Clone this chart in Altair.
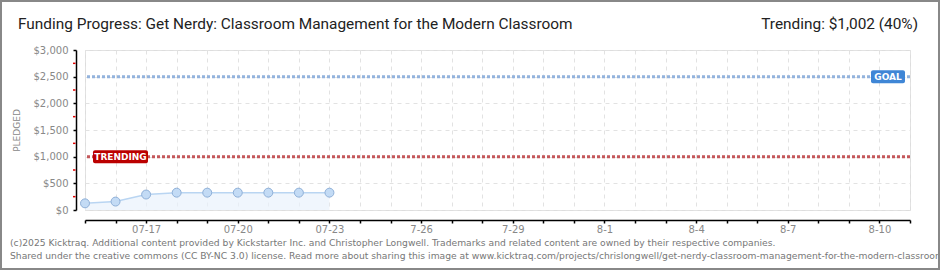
import altair as alt
import pandas as pd

# ---- data ----
start_date = "2025-07-15"
end_date = "2025-08-11"
dates = ["2025-07-15", "2025-07-16", "2025-07-17", "2025-07-18", "2025-07-19",
         "2025-07-20", "2025-07-21", "2025-07-22", "2025-07-23"]
pledged = [125, 158, 290, 325, 325, 325, 325, 325, 325]
tick_labels = ["", "", "07-17", "", "", "07-20", "", "", "07-23", "", "", "7-26", "", "",
               "7-29", "", "", "8-1", "", "", "8-4", "", "", "8-7", "", "", "8-10", ""]
y_major = [0, 500, 1000, 1500, 2000, 2500, 3000]
y_minor = [250, 750, 1250, 1750, 2250, 2750]
goal = 2500
trending = 1000
title_text = "Funding Progress: Get Nerdy: Classroom Management for the Modern Classroom"
trend_text = "Trending:  $1,002 (40%)"
footer1 = "(c)2025 Kicktraq. Additional content provided by Kickstarter Inc. and Christopher Longwell. Trademarks and related content are owned by their respective companies."
footer2 = "Shared under the creative commons (CC BY-NC 3.0) license. Read more about sharing this image at www.kicktraq.com/projects/chrislongwell/get-nerdy-classroom-management-for-the-modern-classroom/"

W, H = 825, 160
t0 = pd.Timestamp(start_date)
ndays = (pd.Timestamp(end_date) - t0).days
df = pd.DataFrame({"day": [(pd.Timestamp(d) - t0).days for d in dates], "pledged": pledged})
lines_df = pd.DataFrame({"v": [goal, trending], "kind": ["goal", "trending"]})
minor_df = pd.DataFrame({"v": y_minor})
one = pd.DataFrame({"a": [0]})

label_arr = "[" + ",".join("'%s'" % s for s in tick_labels) + "]"

xscale = alt.Scale(domain=[0, ndays], nice=False, zero=False)
yscale = alt.Scale(domain=[0, 3000], nice=False)

xaxis = alt.Axis(values=list(range(0, ndays + 1)), labelExpr=label_arr + "[datum.value]",
                 labelOverlap=False, labelFlush=False,
                 grid=True, gridDash=[4, 4], gridColor="#e2e2e2", domainColor="#000",
                 tickColor="#000", tickSize=3, offset=10, labelColor="#888",
                 labelFont="DejaVu Sans", labelFontSize=10, labelPadding=1,
                 title=None, domainWidth=1.5, tickWidth=1.5)
yaxis = alt.Axis(values=y_major,
                 labelExpr="'$' + format(datum.value, ',')",
                 labelOverlap=False,
                 grid=True, gridDash=[4, 4], gridColor="#e2e2e2",
                 tickColor="#000",
                 domainColor="#000", domainWidth=1.5, tickSize=3, tickWidth=1.5, offset=9,
                 labelColor="#888", labelFont="DejaVu Sans", labelFontSize=10, labelPadding=5,
                 title="PLEDGED", titleColor="#888", titleFont="DejaVu Sans", titleFontSize=9,
                 titleFontWeight="normal", titlePadding=12)

X = alt.X("day:Q", scale=xscale, axis=xaxis)
Y = alt.Y("pledged:Q", scale=yscale, axis=yaxis)
YV = alt.Y("v:Q", scale=yscale, axis=yaxis)

base = alt.Chart(df)
area = base.mark_area(color="#e9f2fc", line={"color": "#b9d5f2", "strokeWidth": 1.5}).encode(x=X, y=Y)
pts = base.mark_circle(size=80, fill="#c3dbf5", stroke="#8fb0d8", strokeWidth=1, opacity=1).encode(x=X, y=Y)

minor = alt.Chart(minor_df).mark_rule(color="#e00000", strokeWidth=1.5).encode(
    y=YV, x=alt.value(-12), x2=alt.value(-9.5))

rules = alt.Chart(lines_df).mark_rule(strokeWidth=3, strokeDash=[3, 2]).encode(
    y=YV,
    color=alt.Color("kind:N", scale=alt.Scale(domain=["goal", "trending"], range=["#93b3dd", "#c4575a"]), legend=None),
)

tr_df = lines_df[lines_df.kind == "trending"]
gl_df = lines_df[lines_df.kind == "goal"]
tr_box = alt.Chart(tr_df).mark_rect(color="#bb0000", cornerRadius=2, height=13).encode(
    x=alt.value(8), x2=alt.value(63), y=YV)
tr_txt = alt.Chart(tr_df).mark_text(
    text="TRENDING", color="white", font="DejaVu Sans", fontSize=9, fontWeight="bold", align="center",
    baseline="middle").encode(x=alt.value(35.5), y=YV)
gl_box = alt.Chart(gl_df).mark_rect(color="#3f86d6", cornerRadius=2, height=13).encode(
    x=alt.value(786), x2=alt.value(820), y=YV)
gl_txt = alt.Chart(gl_df).mark_text(
    text="GOAL", color="white", font="DejaVu Sans", fontSize=9, fontWeight="bold", align="center",
    baseline="middle").encode(x=alt.value(803), y=YV)

title = alt.Chart(one).mark_text(text=title_text, font="Roboto", fontSize=15.4,
                                 color="#222", align="left", baseline="alphabetic").encode(
    x=alt.value(18 - 85), y=alt.value(29 - 50))
trend = alt.Chart(one).mark_text(text=trend_text, font="Roboto", fontSize=15.4,
                                 color="#222", align="right", baseline="alphabetic").encode(
    x=alt.value(918 - 85), y=alt.value(29 - 50))
f1 = alt.Chart(one).mark_text(text=footer1, font="DejaVu Sans", fontSize=9.2, color="#777",
                              align="left", baseline="middle").encode(x=alt.value(10 - 85), y=alt.value(243 - 50))
f2 = alt.Chart(one).mark_text(text=footer2, font="DejaVu Sans", fontSize=9.2, color="#777",
                              align="left", baseline="middle").encode(x=alt.value(10 - 85), y=alt.value(256 - 50))
border = alt.Chart(one).mark_rect(fill=None, stroke="#888", strokeWidth=2).encode(
    x=alt.value(-84), x2=alt.value(W + 29), y=alt.value(-49), y2=alt.value(H + 59))

chart = alt.layer(area, rules, pts, minor, tr_box, tr_txt, gl_box, gl_txt, title, trend, f1, f2, border).properties(
    width=W, height=H, autosize=alt.AutoSizeParams(type="none"),
    padding={"left": 85, "top": 50, "right": 30, "bottom": 60},
).configure_view(stroke=None).configure(background="white")

chart.save("out.html", embed_options={"renderer": "svg", "actions": False})
